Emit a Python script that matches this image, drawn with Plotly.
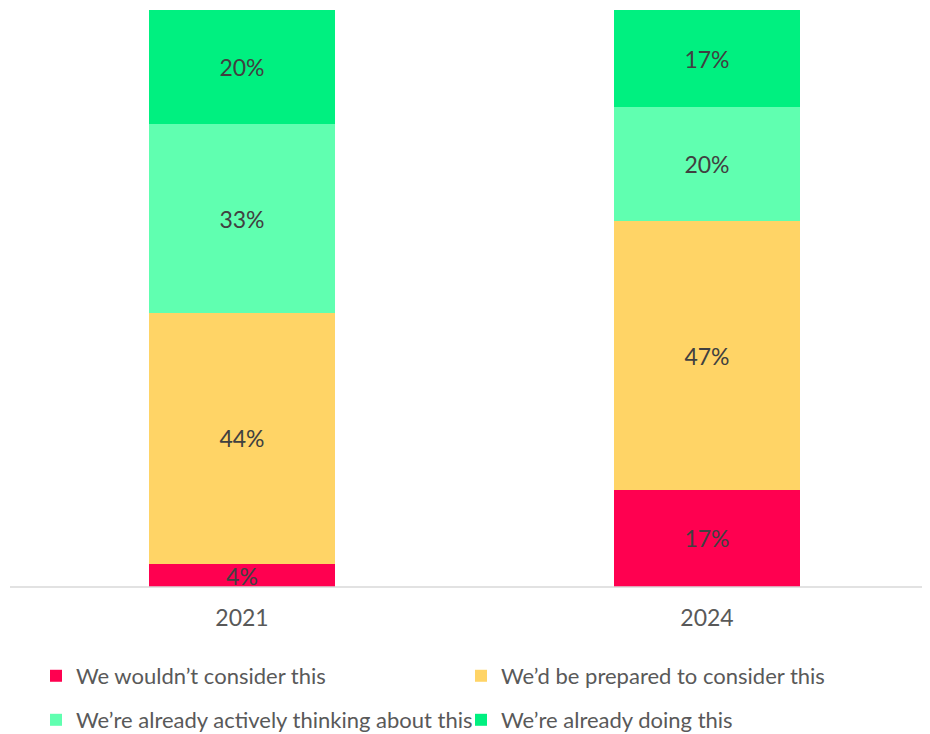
import plotly.graph_objects as go

years = ["2021", "2024"]
series_names = [
    "We wouldn’t consider this",
    "We’d be prepared to consider this",
    "We’re already actively thinking about this",
    "We’re already doing this",
]
wouldnt = [4, 17]
prepared = [44, 47]
thinking = [33, 20]
doing = [20, 17]
colors = ["#FF0050", "#FFD466", "#60FFB0", "#00F080"]
legend_ids = ["legend", "legend", "legend2", "legend2"]

FONT = "Lato"
fig = go.Figure()
for name, vals, col, lg in zip(series_names, [wouldnt, prepared, thinking, doing], colors, legend_ids):
    fig.add_trace(go.Bar(
        x=years, y=vals, name=name, legend=lg,
        marker=dict(color=col, line=dict(width=0)),
        texttemplate="%{y}%", textposition="inside", insidetextanchor="middle",
        constraintext="none",
        textfont=dict(family=FONT, size=23, color="#404040"),
    ))

legend_common = dict(
    orientation="h", x=0.028, xanchor="left", yanchor="middle",
    entrywidth=380, traceorder="normal",
    font=dict(family=FONT, size=22, color="#595959"),
    itemclick=False, bgcolor="rgba(0,0,0,0)", borderwidth=0,
)

fig.update_layout(
    barmode="stack",
    bargap=0.6,
    width=930, height=734,
    margin=dict(l=2, r=0, t=2, b=155, autoexpand=False),
    plot_bgcolor="white", paper_bgcolor="white",
    font=dict(family=FONT, size=22, color="#595959"),
    showlegend=True,
    legend=dict(y=-0.1542, **legend_common),
    legend2=dict(y=-0.2305, **legend_common),
    xaxis=dict(
        type="category", range=[-0.4989, 1.4968],
        showline=False, ticks="", showgrid=False, ticklabelstandoff=15,
        tickfont=dict(family=FONT, size=23, color="#595959"),
    ),
    yaxis=dict(range=[0, 101], visible=False, showgrid=False),
    shapes=[dict(type="line", xref="paper", yref="paper", x0=0, x1=1.0, y0=0, y1=0,
                 line=dict(color="#D9D9D9", width=1.5), layer="above")],
)
fig.write_html("out.html")
